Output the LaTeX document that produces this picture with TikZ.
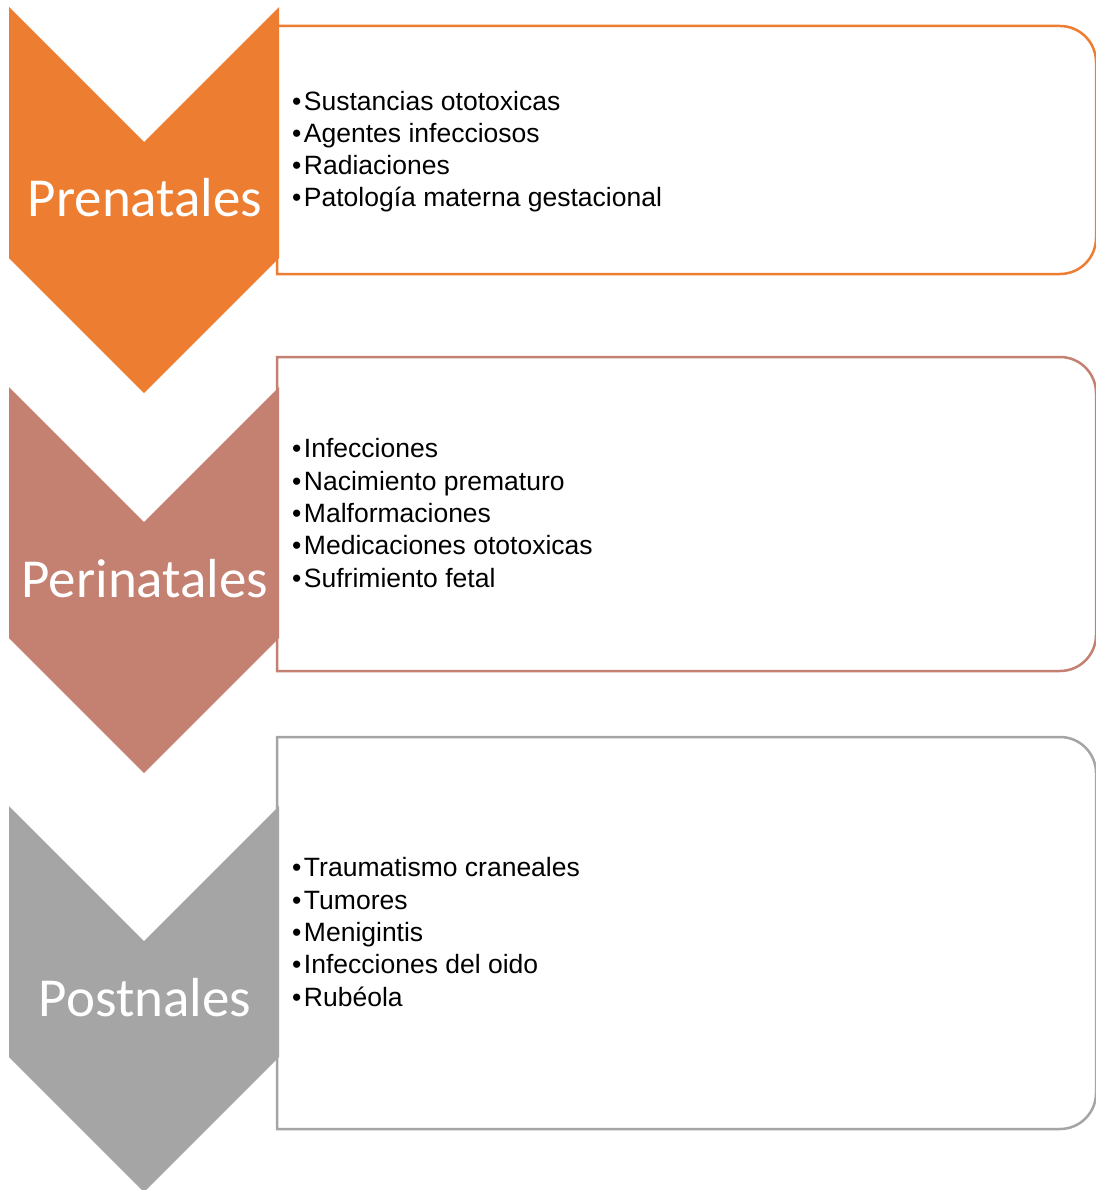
\documentclass[tikz,border=0pt]{standalone}
\usepackage{fontspec}
\setmainfont{Liberation Sans}
\newfontfamily\stagefont{Carlito}
\usetikzlibrary{calc}
\definecolor{prenat}{RGB}{237,125,49}
\definecolor{perinat}{RGB}{196,128,112}
\definecolor{postnat}{RGB}{165,165,165}
\tikzset{
chev/.style={fill=#1, draw=none},
frame/.style={draw=#1, line width=2.5pt, fill=white},
stage/.style={text=white, font=\stagefont\fontsize{55}{60}\selectfont, inner sep=0pt, anchor=base},
items/.style={font=\fontsize{26.5}{32.3}\selectfont, align=left, inner sep=0pt, anchor=base west}
}
\newcommand{\itm}{\textbullet\hspace{2.5pt}}

\begin{document}
\begin{tikzpicture}[x=1pt, y=-1pt]
\useasboundingbox (0,0) rectangle (1095,1190);

% boxes, square on the left, rounded on the right
\draw[frame=prenat] (277,26) -- (1060,26) arc[start angle=-90, end angle=0, radius=36]
  -- (1096,238) arc[start angle=0, end angle=90, radius=36] -- (277,274) -- cycle;
\draw[frame=perinat] (277,357) -- (1060,357) arc[start angle=-90, end angle=0, radius=36]
  -- (1096,635) arc[start angle=0, end angle=90, radius=36] -- (277,671) -- cycle;
\draw[frame=postnat] (277,737) -- (1060,737) arc[start angle=-90, end angle=0, radius=36]
  -- (1096,1093) arc[start angle=0, end angle=90, radius=36] -- (277,1129) -- cycle;

% chevrons
\fill[chev=prenat] (9,7) -- (144,142) -- (279,7) -- (279,258) -- (144,393) -- (9,258) -- cycle;
\fill[chev=perinat] (9,387) -- (144,522) -- (279,387) -- (279,638) -- (144,773) -- (9,638) -- cycle;
\fill[chev=postnat] (9,806) -- (144,941) -- (279,806) -- (279,1057) -- (144,1192) -- (9,1057) -- cycle;

% stage names
\node[stage] (prenatales) at (145,217) {Prenatales};
\node[stage] (perinatales) at (145,597) {Perinatales};
\node[stage] (postnales) at (145,1016) {Postnales};

% factors (anchored on the last line)
\node[items] (prelist) at (292,207) {\itm Sustancias ototoxicas\\
\itm Agentes infecciosos\\
\itm Radiaciones\\
\itm Patología materna gestacional};
\node[items] (perilist) at (292,587) {\itm Infecciones\\
\itm Nacimiento prematuro\\
\itm Malformaciones\\
\itm Medicaciones ototoxicas\\
\itm Sufrimiento fetal};
\node[items] (postlist) at (292,1006) {\itm Traumatismo craneales\\
\itm Tumores\\
\itm Menigintis\\
\itm Infecciones del oido\\
\itm Rubéola};
\end{tikzpicture}
\end{document}
